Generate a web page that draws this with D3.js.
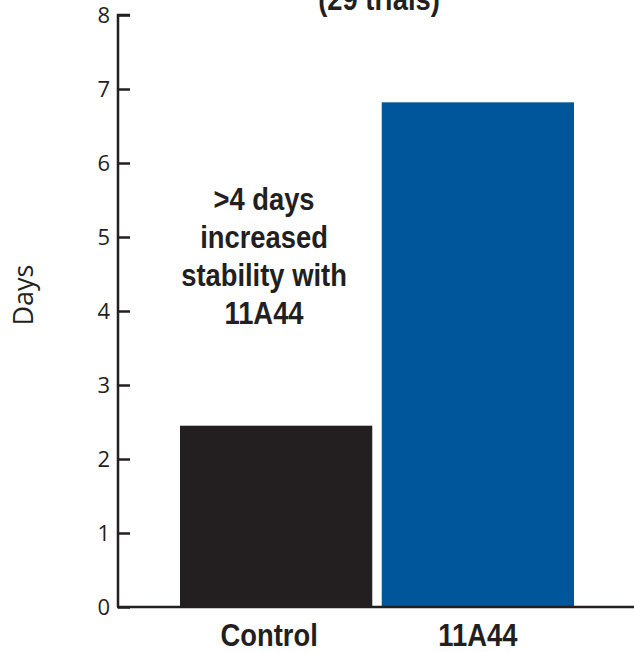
<!DOCTYPE html>
<html>
<head>
<meta charset="utf-8">
<script src="https://cdn.jsdelivr.net/npm/d3@7"></script>
<style>
  body { margin: 0; background: #fff; }
  svg { display: block; }
</style>
</head>
<body>
<div id="chart"></div>
<script>
const categories = ["Control", "11A44"];
const days = [2.45, 6.82];
const barColors = ["#231f20", "#00569a"];
const yTicks = [0, 1, 2, 3, 4, 5, 6, 7, 8];
const titleText = "(29 trials)";
const noteLines = [">4 days", "increased", "stability with", "11A44"];

const W = 634, H = 652;
const boldFont = "'Liberation Sans', Arial, sans-serif";
const plainFont = "'Open Sans', 'Liberation Sans', sans-serif";
const squeeze = 0.855; // horizontal squeeze to fake a condensed bold face
const ink = "#231f20";

const svg = d3.select("#chart").append("svg")
    .attr("width", W)
    .attr("height", H);

const y = d3.scaleLinear().domain([0, 8]).range([607, 15]);
const x = d3.scaleBand().domain(categories).range([180, 574]).paddingInner(0.047);

// bars
svg.selectAll(".bar")
    .data(categories)
    .enter()
    .append("rect")
    .attr("class", "bar")
    .attr("x", d => x(d))
    .attr("y", (d, i) => y(days[i]))
    .attr("width", x.bandwidth())
    .attr("height", (d, i) => y(0) - y(days[i]))
    .attr("fill", (d, i) => barColors[i]);

// y axis, ticks point right
const axisX = 118;
const yAxis = d3.axisRight(y).tickValues(yTicks).tickSize(12).tickFormat(d3.format("d"));
const ga = svg.append("g")
    .attr("transform", `translate(${axisX},0)`)
    .call(yAxis);
ga.select(".domain").attr("stroke", ink).attr("stroke-width", 2.5).attr("d", `M12,${y(8)}H0V${y(0)}`);
ga.selectAll(".tick line").attr("stroke", ink).attr("stroke-width", 2.5);
ga.selectAll(".tick text")
    .attr("x", -8)
    .attr("dy", "0.36em")
    .attr("text-anchor", "end")
    .attr("fill", ink)
    .style("font-family", plainFont)
    .style("font-size", "22px");

// baseline
svg.append("line")
    .attr("x1", axisX - 1).attr("x2", W)
    .attr("y1", y(0)).attr("y2", y(0))
    .attr("stroke", ink)
    .attr("stroke-width", 2.5);

// category labels
const labelShift = [-7, 0];
svg.selectAll(".cat")
    .data(categories)
    .enter()
    .append("text")
    .attr("class", "cat")
    .attr("transform", (d, i) => `translate(${x(d) + x.bandwidth() / 2 + labelShift[i]},646) scale(${squeeze},1)`)
    .attr("text-anchor", "middle")
    .attr("fill", ink)
    .style("font-family", boldFont)
    .style("font-weight", "bold")
    .style("font-size", "32px")
    .text(d => d);

// y label
svg.append("text")
    .attr("transform", "translate(33,295) rotate(-90)")
    .attr("text-anchor", "middle")
    .attr("fill", ink)
    .style("font-family", plainFont)
    .style("font-size", "27px")
    .text("Days");

// title, cut by the top edge as in the source
svg.append("text")
    .attr("transform", `translate(379,10) scale(${squeeze},1)`)
    .attr("text-anchor", "middle")
    .attr("fill", ink)
    .style("font-family", boldFont)
    .style("font-weight", "bold")
    .style("font-size", "32px")
    .text(titleText);

// annotation
svg.append("text")
    .attr("transform", `translate(264,210) scale(${squeeze},1)`)
    .attr("text-anchor", "middle")
    .attr("fill", ink)
    .style("font-family", boldFont)
    .style("font-weight", "bold")
    .style("font-size", "32px")
    .selectAll("tspan")
    .data(noteLines)
    .enter()
    .append("tspan")
    .attr("x", 0)
    .attr("y", (d, i) => i * 38)
    .text(d => d);
</script>
</body>
</html>
